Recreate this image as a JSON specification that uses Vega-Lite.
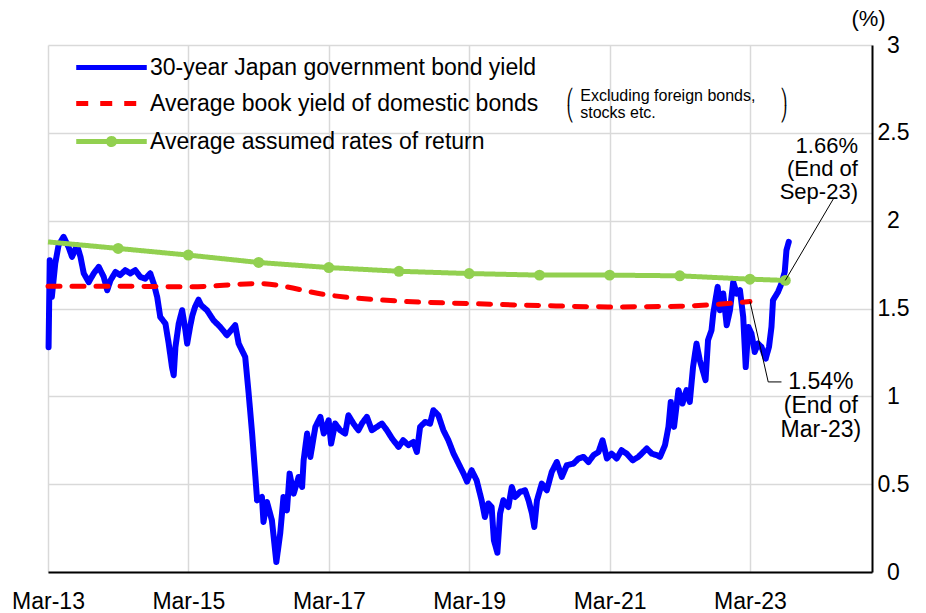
{
  "$schema": "https://vega.github.io/schema/vega-lite/v6.json",
  "width": 824,
  "height": 527,
  "autosize": {"type": "none"},
  "padding": {"left": 48, "top": 45, "right": 54, "bottom": 41},
  "background": "white",
  "config": {
    "font": "Liberation Sans",
    "view": {"stroke": null},
    "text": {"color": "black"}
  },
  "datasets": {
    "jgb": [
      {"d": "2013-03-04", "v": 1.28}, {"d": "2013-03-10", "v": 1.775}, {"d": "2013-03-21", "v": 1.566},
      {"d": "2013-04-08", "v": 1.758}, {"d": "2013-04-25", "v": 1.86}, {"d": "2013-05-21", "v": 1.908},
      {"d": "2013-06-16", "v": 1.85}, {"d": "2013-07-04", "v": 1.794}, {"d": "2013-07-30", "v": 1.86},
      {"d": "2013-08-17", "v": 1.794}, {"d": "2013-09-03", "v": 1.70}, {"d": "2013-09-29", "v": 1.65},
      {"d": "2013-10-25", "v": 1.70}, {"d": "2013-11-20", "v": 1.737}, {"d": "2013-12-16", "v": 1.68},
      {"d": "2014-01-03", "v": 1.604}, {"d": "2014-01-20", "v": 1.66}, {"d": "2014-02-15", "v": 1.708},
      {"d": "2014-03-11", "v": 1.69}, {"d": "2014-04-07", "v": 1.718}, {"d": "2014-05-03", "v": 1.70},
      {"d": "2014-05-29", "v": 1.718}, {"d": "2014-06-24", "v": 1.68}, {"d": "2014-07-20", "v": 1.67},
      {"d": "2014-08-15", "v": 1.70}, {"d": "2014-09-02", "v": 1.642}, {"d": "2014-09-20", "v": 1.566},
      {"d": "2014-10-06", "v": 1.452}, {"d": "2014-11-02", "v": 1.414}, {"d": "2014-11-19", "v": 1.30},
      {"d": "2014-12-06", "v": 1.167}, {"d": "2014-12-15", "v": 1.12}, {"d": "2014-12-24", "v": 1.28},
      {"d": "2015-01-10", "v": 1.414}, {"d": "2015-01-28", "v": 1.49}, {"d": "2015-02-14", "v": 1.376},
      {"d": "2015-02-23", "v": 1.30}, {"d": "2015-03-10", "v": 1.395}, {"d": "2015-03-22", "v": 1.46},
      {"d": "2015-04-05", "v": 1.509}, {"d": "2015-04-23", "v": 1.55}, {"d": "2015-05-06", "v": 1.52},
      {"d": "2015-06-06", "v": 1.49}, {"d": "2015-07-10", "v": 1.433}, {"d": "2015-08-14", "v": 1.395},
      {"d": "2015-09-18", "v": 1.348}, {"d": "2015-10-31", "v": 1.405}, {"d": "2015-11-18", "v": 1.30},
      {"d": "2015-12-22", "v": 1.224}, {"d": "2016-01-09", "v": 1.016}, {"d": "2016-01-27", "v": 0.788},
      {"d": "2016-02-13", "v": 0.541}, {"d": "2016-02-22", "v": 0.408}, {"d": "2016-03-18", "v": 0.427},
      {"d": "2016-03-26", "v": 0.285}, {"d": "2016-04-13", "v": 0.399}, {"d": "2016-05-09", "v": 0.294},
      {"d": "2016-06-01", "v": 0.057}, {"d": "2016-06-21", "v": 0.219}, {"d": "2016-07-08", "v": 0.427},
      {"d": "2016-07-26", "v": 0.351}, {"d": "2016-08-09", "v": 0.56}, {"d": "2016-08-30", "v": 0.446},
      {"d": "2016-09-25", "v": 0.541}, {"d": "2016-10-13", "v": 0.484}, {"d": "2016-10-21", "v": 0.636},
      {"d": "2016-11-08", "v": 0.788}, {"d": "2016-11-25", "v": 0.655}, {"d": "2016-12-21", "v": 0.826},
      {"d": "2017-01-16", "v": 0.883}, {"d": "2017-02-03", "v": 0.788}, {"d": "2017-02-28", "v": 0.864},
      {"d": "2017-03-13", "v": 0.731}, {"d": "2017-04-03", "v": 0.845}, {"d": "2017-04-29", "v": 0.807},
      {"d": "2017-05-25", "v": 0.788}, {"d": "2017-06-11", "v": 0.892}, {"d": "2017-07-07", "v": 0.845},
      {"d": "2017-08-02", "v": 0.807}, {"d": "2017-08-20", "v": 0.845}, {"d": "2017-09-15", "v": 0.883},
      {"d": "2017-10-11", "v": 0.807}, {"d": "2017-11-06", "v": 0.826}, {"d": "2017-12-02", "v": 0.845},
      {"d": "2017-12-28", "v": 0.807}, {"d": "2018-01-24", "v": 0.76}, {"d": "2018-02-27", "v": 0.712},
      {"d": "2018-03-23", "v": 0.75}, {"d": "2018-04-19", "v": 0.722}, {"d": "2018-05-15", "v": 0.74},
      {"d": "2018-06-02", "v": 0.683}, {"d": "2018-06-19", "v": 0.826}, {"d": "2018-07-15", "v": 0.854},
      {"d": "2018-08-10", "v": 0.845}, {"d": "2018-08-27", "v": 0.921}, {"d": "2018-09-22", "v": 0.892},
      {"d": "2018-10-18", "v": 0.807}, {"d": "2018-11-13", "v": 0.75}, {"d": "2018-12-10", "v": 0.674},
      {"d": "2019-01-05", "v": 0.617}, {"d": "2019-01-31", "v": 0.56}, {"d": "2019-02-18", "v": 0.515},
      {"d": "2019-03-14", "v": 0.579}, {"d": "2019-04-09", "v": 0.522}, {"d": "2019-05-05", "v": 0.408},
      {"d": "2019-05-22", "v": 0.313}, {"d": "2019-06-09", "v": 0.39}, {"d": "2019-06-26", "v": 0.37},
      {"d": "2019-07-08", "v": 0.18}, {"d": "2019-07-26", "v": 0.11}, {"d": "2019-08-09", "v": 0.333},
      {"d": "2019-08-26", "v": 0.408}, {"d": "2019-09-21", "v": 0.37}, {"d": "2019-10-09", "v": 0.484},
      {"d": "2019-10-26", "v": 0.427}, {"d": "2019-11-21", "v": 0.456}, {"d": "2019-12-17", "v": 0.465},
      {"d": "2020-01-04", "v": 0.408}, {"d": "2020-01-22", "v": 0.333}, {"d": "2020-02-03", "v": 0.256},
      {"d": "2020-02-17", "v": 0.408}, {"d": "2020-03-13", "v": 0.503}, {"d": "2020-04-08", "v": 0.465},
      {"d": "2020-05-04", "v": 0.57}, {"d": "2020-05-30", "v": 0.626}, {"d": "2020-06-25", "v": 0.541},
      {"d": "2020-07-21", "v": 0.608}, {"d": "2020-08-25", "v": 0.617}, {"d": "2020-09-20", "v": 0.646},
      {"d": "2020-10-16", "v": 0.655}, {"d": "2020-11-11", "v": 0.626}, {"d": "2020-12-07", "v": 0.665},
      {"d": "2021-01-02", "v": 0.683}, {"d": "2021-01-23", "v": 0.75}, {"d": "2021-02-15", "v": 0.646},
      {"d": "2021-03-11", "v": 0.674}, {"d": "2021-04-07", "v": 0.646}, {"d": "2021-05-02", "v": 0.693},
      {"d": "2021-05-28", "v": 0.674}, {"d": "2021-06-29", "v": 0.636}, {"d": "2021-07-28", "v": 0.655},
      {"d": "2021-08-23", "v": 0.683}, {"d": "2021-09-10", "v": 0.703}, {"d": "2021-10-06", "v": 0.674},
      {"d": "2021-11-01", "v": 0.665}, {"d": "2021-11-18", "v": 0.655}, {"d": "2021-12-14", "v": 0.722},
      {"d": "2022-01-01", "v": 0.826}, {"d": "2022-01-13", "v": 0.968}, {"d": "2022-01-30", "v": 0.826},
      {"d": "2022-02-22", "v": 1.035}, {"d": "2022-03-15", "v": 0.959}, {"d": "2022-04-05", "v": 1.035},
      {"d": "2022-04-22", "v": 0.968}, {"d": "2022-05-09", "v": 1.167}, {"d": "2022-05-27", "v": 1.30},
      {"d": "2022-06-13", "v": 1.206}, {"d": "2022-07-13", "v": 1.092}, {"d": "2022-07-26", "v": 1.32},
      {"d": "2022-08-13", "v": 1.376}, {"d": "2022-08-22", "v": 1.471}, {"d": "2022-09-14", "v": 1.623},
      {"d": "2022-09-26", "v": 1.49}, {"d": "2022-10-13", "v": 1.585}, {"d": "2022-10-31", "v": 1.405},
      {"d": "2022-11-17", "v": 1.49}, {"d": "2022-12-04", "v": 1.651}, {"d": "2022-12-22", "v": 1.585},
      {"d": "2023-01-08", "v": 1.604}, {"d": "2023-01-25", "v": 1.452}, {"d": "2023-02-07", "v": 1.167},
      {"d": "2023-02-21", "v": 1.395}, {"d": "2023-03-09", "v": 1.357}, {"d": "2023-03-26", "v": 1.253},
      {"d": "2023-04-12", "v": 1.30}, {"d": "2023-04-30", "v": 1.281}, {"d": "2023-05-22", "v": 1.215},
      {"d": "2023-06-08", "v": 1.281}, {"d": "2023-06-21", "v": 1.395}, {"d": "2023-06-29", "v": 1.547},
      {"d": "2023-07-25", "v": 1.594}, {"d": "2023-08-12", "v": 1.642}, {"d": "2023-08-29", "v": 1.708},
      {"d": "2023-09-07", "v": 1.832}, {"d": "2023-09-19", "v": 1.879}
    ],
    "book": [
      {"d": "2013-03-01", "v": 1.627}, {"d": "2014-03-01", "v": 1.627}, {"d": "2015-03-01", "v": 1.623},
      {"d": "2016-03-01", "v": 1.642}, {"d": "2017-03-01", "v": 1.576}, {"d": "2018-03-01", "v": 1.542},
      {"d": "2019-03-01", "v": 1.528}, {"d": "2020-03-01", "v": 1.517}, {"d": "2021-03-01", "v": 1.509},
      {"d": "2022-03-01", "v": 1.513}, {"d": "2023-03-01", "v": 1.54}
    ],
    "assumed": [
      {"d": "2013-03-01", "v": 1.879}, {"d": "2014-03-01", "v": 1.842}, {"d": "2015-03-01", "v": 1.804},
      {"d": "2016-03-01", "v": 1.762}, {"d": "2017-03-01", "v": 1.733}, {"d": "2018-03-01", "v": 1.712},
      {"d": "2019-03-01", "v": 1.699}, {"d": "2020-03-01", "v": 1.69}, {"d": "2021-03-01", "v": 1.69},
      {"d": "2022-03-01", "v": 1.686}, {"d": "2023-03-01", "v": 1.667}, {"d": "2023-09-01", "v": 1.66}
    ],
    "notes": [
      {"d": "2024-03-04", "v": 1.081, "label": ["1.54%", "(End of", "Mar-23)"]}
    ],
    "notes2": [
      {"d": "2024-09-13", "v": 2.424, "label": ["1.66%", "(End of", "Sep-23)"]}
    ],
    "notes3": [
      {"d": "2020-09-29", "v": 2.709, "label": ["Excluding foreign bonds,", "stocks etc."]}
    ],
    "brackets": [
      {"d": "2020-07-18", "v": 2.703, "label": ["⎛", "⎝"]},
      {"d": "2023-08-05", "v": 2.703, "label": ["⎞", "⎠"]}
    ],
    "leaders": [
      {"id": "a", "d": "2023-09-01", "v": 1.66},
      {"id": "a", "d": "2024-05-10", "v": 2.128},
      {"id": "b", "d": "2023-03-01", "v": 1.54},
      {"id": "b", "d": "2023-06-04", "v": 1.082},
      {"id": "b", "d": "2023-08-12", "v": 1.082}
    ]
  },
  "encoding": {
    "x": {
      "field": "d",
      "type": "temporal",
      "scale": {
        "type": "utc",
        "domain": [
          {"year": 2013, "month": 3, "date": 1, "utc": true},
          {"year": 2024, "month": 11, "date": 25, "utc": true}
        ]
      },
      "axis": {
        "title": null,
        "values": [
          {"year": 2013, "month": 3, "date": 1, "utc": true},
          {"year": 2015, "month": 3, "date": 1, "utc": true},
          {"year": 2017, "month": 3, "date": 1, "utc": true},
          {"year": 2019, "month": 3, "date": 1, "utc": true},
          {"year": 2021, "month": 3, "date": 1, "utc": true},
          {"year": 2023, "month": 3, "date": 1, "utc": true}
        ],
        "format": "%b-%y",
        "grid": true,
        "gridColor": "#D9D9D9",
        "gridWidth": 1.5,
        "ticks": false,
        "domainColor": "black",
        "domainWidth": 2,
        "labelFontSize": 23,
        "labelColor": "black",
        "labelPadding": 18,
        "labelFlush": false,
        "labelOverlap": false,
        "labelBound": false
      }
    },
    "y": {
      "field": "v",
      "type": "quantitative",
      "scale": {"domain": [0, 3], "nice": false, "zero": false},
      "axis": {
        "orient": "right",
        "values": [0, 0.5, 1, 1.5, 2, 2.5, 3],
        "format": "~g",
        "grid": true,
        "gridColor": "#D9D9D9",
        "gridWidth": 1.5,
        "ticks": false,
        "domainColor": "black",
        "domainWidth": 2,
        "labelFontSize": 23,
        "labelColor": "black",
        "labelAlign": "center",
        "labelBaseline": "middle",
        "labelPadding": 21,
        "labelFlush": false,
        "title": "(%)",
        "titleAngle": 0,
        "titleX": -4,
        "titleY": -27,
        "titleAlign": "center",
        "titleBaseline": "middle",
        "titleFontSize": 22,
        "titleFontWeight": "normal",
        "titleColor": "black"
      }
    }
  },
  "layer": [
    {
      "data": {"name": "jgb"},
      "mark": {"type": "line", "strokeWidth": 6, "strokeJoin": "round", "strokeCap": "round"},
      "encoding": {
        "color": {
          "datum": "30-year Japan government bond yield",
          "scale": {
            "domain": ["30-year Japan government bond yield", "Average book yield of domestic bonds", "Average assumed rates of return"],
            "range": ["#0000FF", "#FF0000", "#92D050"]
          },
          "legend": {
            "title": null,
            "orient": "none",
            "legendX": 52,
            "legendY": 11,
            "padding": 0,
            "symbolType": "M-4,0H4",
            "symbolSize": 311,
            "symbolStrokeWidth": 5,
            "labelFontSize": 23,
            "labelColor": "black",
            "labelOffset": 27,
            "labelLimit": 700,
            "rowPadding": 12,
            "encode": {
              "symbols": {
                "update": {
                  "shape": {"signal": "datum.value === 'Average assumed rates of return' ? 'M-4,0H4M-0.35,0a0.35,0.35 0 1,0 0.7,0a0.35,0.35 0 1,0 -0.7,0' : 'M-4,0H4'"},
                  "fill": {"signal": "datum.value === 'Average assumed rates of return' ? '#92D050' : 'transparent'"},
                  "strokeWidth": {"value": 5}
                }
              }
            }
          }
        },
        "strokeDash": {
          "datum": "30-year Japan government bond yield",
          "scale": {
            "domain": ["30-year Japan government bond yield", "Average book yield of domestic bonds", "Average assumed rates of return"],
            "range": [[1, 0], [12, 12], [1, 0]]
          }
        }
      }
    },
    {
      "data": {"name": "book"},
      "mark": {"type": "line", "strokeWidth": 5, "interpolate": "monotone", "strokeCap": "round"},
      "encoding": {
        "color": {"datum": "Average book yield of domestic bonds"},
        "strokeDash": {"datum": "Average book yield of domestic bonds"}
      }
    },
    {
      "data": {"name": "assumed"},
      "mark": {"type": "line", "strokeWidth": 5},
      "encoding": {
        "color": {"datum": "Average assumed rates of return"},
        "strokeDash": {"datum": "Average assumed rates of return"}
      }
    },
    {
      "data": {"name": "assumed"},
      "transform": [{"filter": "year(datum.d) > 2013"}],
      "mark": {"type": "point", "filled": true, "size": 120, "opacity": 1, "color": "#92D050"}
    },
    {
      "data": {"name": "leaders"},
      "mark": {"type": "line", "color": "black", "strokeWidth": 1},
      "encoding": {"detail": {"field": "id"}}
    },
    {
      "data": {"name": "notes"},
      "mark": {"type": "text", "align": "center", "baseline": "middle", "fontSize": 23, "lineHeight": 24},
      "encoding": {"text": {"field": "label"}}
    },
    {
      "data": {"name": "notes2"},
      "mark": {"type": "text", "align": "right", "baseline": "middle", "fontSize": 22, "lineHeight": 23},
      "encoding": {"text": {"field": "label"}}
    },
    {
      "data": {"name": "notes3"},
      "mark": {"type": "text", "align": "left", "baseline": "middle", "fontSize": 16, "lineHeight": 17},
      "encoding": {"text": {"field": "label"}}
    },
    {
      "data": {"name": "brackets"},
      "mark": {"type": "text", "align": "left", "baseline": "middle", "fontSize": 15, "lineHeight": 17, "font": "DejaVu Sans"},
      "encoding": {"text": {"field": "label"}}
    }
  ]
}
